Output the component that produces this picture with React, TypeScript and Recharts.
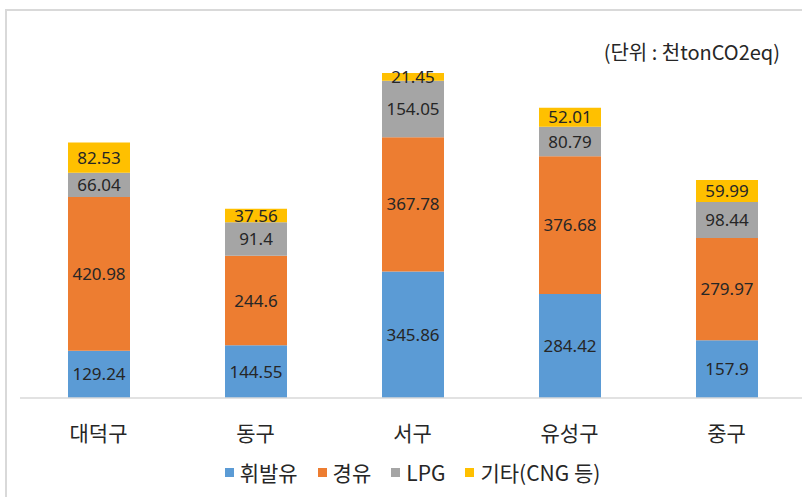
import React from 'react';
import { BarChart, Bar, XAxis, YAxis, LabelList } from 'recharts';

const categories = ['대덕구', '동구', '서구', '유성구', '중구'];
const gasoline = [129.24, 144.55, 345.86, 284.42, 157.9];
const diesel = [420.98, 244.6, 367.78, 376.68, 279.97];
const lpg = [66.04, 91.4, 154.05, 80.79, 98.44];
const other = [82.53, 37.56, 21.45, 52.01, 59.99];
const seriesKeys = ['gasoline', 'diesel', 'lpg', 'other'];
const seriesNames = ['휘발유', '경유', 'LPG', '기타(CNG 등)'];
const seriesColors = ['#5B9BD5', '#ED7D31', '#A5A5A5', '#FFC000'];
const unitText = '(단위 : 천tonCO2eq)';

const data = categories.map((c, i) => ({
  name: c,
  gasoline: gasoline[i],
  diesel: diesel[i],
  lpg: lpg[i],
  other: other[i],
}));

const KR = '"Noto Sans CJK KR", "Noto Sans", sans-serif';
const NUM = '"Noto Sans", "Noto Sans CJK KR", sans-serif';

const CatTick = (props: any) => {
  const { x, y, payload } = props;
  return (
    <text x={x} y={y} dy={34} textAnchor="middle" dominantBaseline="central"
      fontFamily={KR} fontSize={21} fill="#262626">
      {payload.value}
    </text>
  );
};

export default function App() {
  return (
    <div style={{ position: 'absolute', left: 0, top: 0, width: 802, height: 497, overflow: 'hidden', background: '#fff' }}>
      <div style={{ position: 'absolute', left: 5, top: 9, width: 900, height: 600, border: '2px solid #D9D9D9', boxSizing: 'border-box' }} />
      <div style={{ position: 'absolute', left: 0, top: 0 }}>
        <BarChart width={830} height={497} data={data}
          margin={{ top: 32.5, right: 25, bottom: 69, left: 20 }} barSize={62}>
          <XAxis dataKey="name" height={30} axisLine={{ stroke: '#D9D9D9', strokeWidth: 1.5 }} tickLine={false}
            tickSize={0} tickMargin={0} tick={<CatTick />} interval={0} />
          <YAxis hide domain={[0, 1000]} />
          {seriesKeys.map((k, i) => (
            <Bar key={k} dataKey={k} name={seriesNames[i]} stackId="a" fill={seriesColors[i]} isAnimationActive={false}>
              <LabelList dataKey={k} position="center" fill="#262626" fontSize={17} fontFamily={NUM} />
            </Bar>
          ))}
        </BarChart>
      </div>
      <div style={{ position: 'absolute', right: 22, top: 39, fontFamily: KR, fontSize: 20, color: '#262626', whiteSpace: 'nowrap', lineHeight: '26px' }}>
        {unitText}
      </div>
      <div style={{ position: 'absolute', left: 20, width: 785, top: 459, display: 'flex', justifyContent: 'center', alignItems: 'center', fontFamily: KR, fontSize: 21, color: '#262626', lineHeight: '26px' }}>
        {seriesNames.map((n, i) => (
          <div key={n} style={{ display: 'flex', alignItems: 'center', marginLeft: i === 0 ? 0 : 20 }}>
            <span style={{ display: 'inline-block', width: 9, height: 9, background: seriesColors[i], marginRight: 6 }} />
            <span>{n}</span>
          </div>
        ))}
      </div>
    </div>
  );
}
